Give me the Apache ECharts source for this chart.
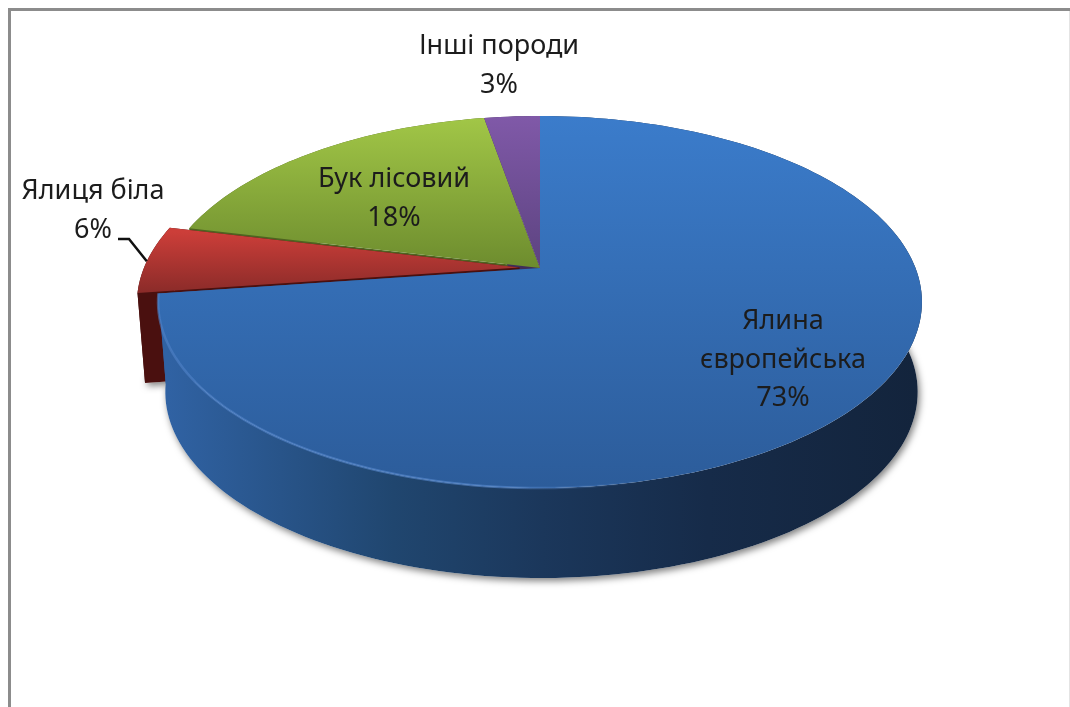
<!DOCTYPE html>
<html><head><meta charset="utf-8">
<style>html,body{margin:0;padding:0;background:#fff}#c{width:1070px;height:707px}</style>
<script src="https://cdn.jsdelivr.net/npm/echarts@6/dist/echarts.min.js"></script>
</head><body><div id="c"></div>
<script>
// ---- data ----
const categories = ['Ялина\nєвропейська', 'Ялиця біла', 'Бук лісовий', 'Інші породи'];
const shares = [72.8, 5.9, 18.49, 2.81];
const explode = [0, 0.055, 0, 0];

// ---- layout & style (not data) ----
const CX = 540, APEX_Y = 268, RX = 375.5, RY = 179.8, PERSP = 0.1828;
const DEPTH = 90, BOTTOM_SCALE = 0.985, BOTTOM_SHIFT = 1.5;
const labelAt = [[783, 360], [93, 211], [394, 199], [499, 65.5]];
const wallOrder = [3, 2, 0, 1];  // walls and cut faces, back to front
const topOrder = [3, 0, 1, 2];   // top faces: blue is painted last, over the exploded red slice
const topColors = [
  [116, 488, '#3b7ccb', '#2c5c9a'],
  [232, 296, '#cc3e39', '#872a28'],
  [116, 268, '#a2c747', '#6d8c2e'],
  [116, 268, '#8059a8', '#5c4380']
];
const wallStops = [
  [['0', '#3062a3'], ['0.3', '#20466f'], ['0.5', '#1b375b'], ['0.72', '#162b49'], ['1', '#13243c']],
  [['0', '#4a100f'], ['1', '#4a100f']],
  [['0', '#4f6320'], ['1', '#4f6320']],
  [['0', '#3f2d5a'], ['1', '#3f2d5a']]
];
const total = shares.reduce((a, b) => a + b, 0);
const starts = shares.map((_, i) => shares.slice(0, i).reduce((a, b) => a + b, 0) / total);

function project(u, v) {
  const w = 1 + PERSP * v;
  return [CX + RX * u / w, APEX_Y - RY * v / w];
}
function lower(p) { return [CX + BOTTOM_SHIFT + (p[0] - CX) * BOTTOM_SCALE, p[1] + DEPTH]; }

function renderSlice(params, api) {
  const i = params.dataIndex;
  const frac = api.value(0) / total;
  const a0 = starts[i] * 2 * Math.PI, a1 = a0 + frac * 2 * Math.PI, mid = (a0 + a1) / 2;
  const du = explode[i] * Math.sin(mid), dv = explode[i] * Math.cos(mid);
  const rim = [];
  const steps = Math.max(4, Math.ceil(frac * 240));
  for (let s = 0; s <= steps; s++) {
    const a = a0 + (a1 - a0) * s / steps;
    rim.push(project(Math.sin(a) + du, Math.cos(a) + dv));
  }
  const apex = project(du, dv);
  const order = wallOrder[i];
  const wallFill = {
    type: 'linear', x: 168, y: 0, x2: 918, y2: 0, global: true,
    colorStops: wallStops[i].map(s => ({ offset: +s[0], color: s[1] }))
  };
  const children = [];
  // soft ground shadow cast by the lower face only
  children.push({
    type: 'polygon', z2: -1, silent: true,
    shape: { points: rim.map(lower).concat([lower(apex)]) },
    style: { fill: '#fff', shadowBlur: 7, shadowColor: 'rgba(0,0,0,0.5)', shadowOffsetX: 2, shadowOffsetY: 3 }
  });
  // outer wall
  children.push({
    type: 'polygon', z2: order, silent: true,
    shape: { points: rim.concat(rim.map(lower).reverse()) },
    style: { fill: wallFill }
  });
  // radial cut faces
  [rim[0], rim[rim.length - 1]].forEach(p => children.push({
    type: 'polygon', z2: order, silent: true,
    shape: { points: [p, apex, lower(apex), lower(p)] },
    style: { fill: wallFill }
  }));
  // top face
  const tc = topColors[i];
  children.push({
    type: 'polygon', z2: 20 + topOrder[i], silent: true,
    shape: { points: rim.concat([apex]) },
    style: {
      fill: { type: 'linear', x: 0, y: tc[0], x2: 0, y2: tc[1], global: true,
        colorStops: [{ offset: 0, color: tc[2] }, { offset: 1, color: tc[3] }] }
    }
  });
  // bevel highlight on the front rim of the largest slice
  if (i === 0) {
    children.push({
      type: 'polyline', z2: 30, silent: true,
      shape: { points: rim.slice(Math.floor(steps * 0.55)) },
      style: { fill: null, lineWidth: 2.5, stroke: {
        type: 'linear', x: 640, y: 0, x2: 160, y2: 0, global: true,
        colorStops: [{ offset: 0, color: 'rgba(90,140,210,0)' }, { offset: 0.3, color: 'rgba(90,140,210,0.6)' }, { offset: 1, color: 'rgba(80,130,200,0.6)' }]
      } }
    });
  }
  // leader line of the small exploded slice
  if (i === 1) {
    const target = rim[Math.floor(steps * 0.5)];
    children.push({
      type: 'polyline', z2: 100, silent: true,
      shape: { points: [[labelAt[i][0] + 25, labelAt[i][1] + 28], [labelAt[i][0] + 36, labelAt[i][1] + 28], target] },
      style: { fill: null, stroke: '#111', lineWidth: 2.5 }
    });
  }
  // label
  children.push({
    type: 'text', z2: 101, silent: true,
    style: {
      text: categories[i] + '\n' + Math.round(api.value(0)) + '%',
      x: labelAt[i][0], y: labelAt[i][1], align: 'center', verticalAlign: 'middle',
      fill: '#1c1c1c', font: '27px "Noto Sans"', lineHeight: 38.8
    }
  });
  return { type: 'group', children };
}

const chart = echarts.init(document.getElementById('c'), null, { renderer: 'canvas' });
chart.setOption({
  animation: false,
  backgroundColor: '#fff',
  graphic: [
    { type: 'rect', shape: { x: 8, y: 8, width: 1062, height: 3 }, style: { fill: '#8c8c8c' }, silent: true },
    { type: 'rect', shape: { x: 8, y: 8, width: 3, height: 699 }, style: { fill: '#8c8c8c' }, silent: true },
    { type: 'rect', shape: { x: 1069, y: 11, width: 1, height: 696 }, style: { fill: '#e4e4e4' }, silent: true }
  ],
  series: [{
    type: 'custom',
    coordinateSystem: 'none',
    renderItem: renderSlice,
    data: shares.map(v => [v])
  }]
});
</script></body></html>
